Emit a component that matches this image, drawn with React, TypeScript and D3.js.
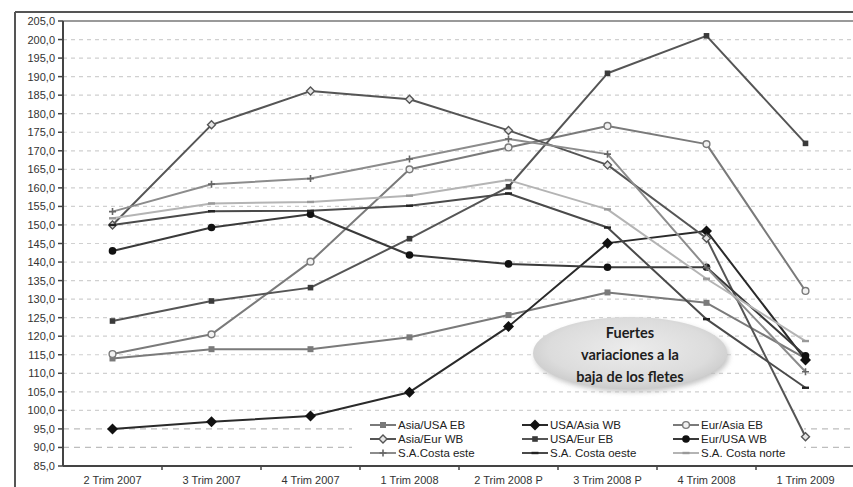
import React from "react";
import * as d3 from "d3";

const categories = ["2 Trim 2007", "3 Trim 2007", "4 Trim 2007", "1 Trim 2008", "2 Trim 2008 P", "3 Trim 2008 P", "4 Trim 2008", "1 Trim 2009"];
const yTicks = d3.range(85, 206, 5);

const asiaUsaEB = [114.0, 116.5, 116.5, 119.7, 125.7, 131.8, 129.0, 114.0];
const asiaEurWB = [150.0, 177.0, 186.1, 183.9, 175.5, 166.2, 146.4, 92.9];
const saCostaEste = [153.6, 161.0, 162.5, 167.8, 173.2, 169.1, 138.5, 110.4];
const usaAsiaWB = [95.0, 96.9, 98.5, 104.9, 122.6, 145.1, 148.4, 113.6];
const usaEurEB = [124.1, 129.5, 133.1, 146.3, 160.3, 190.9, 201.0, 172.0];
const eurUsaWB = [143.0, 149.3, 152.9, 141.9, 139.5, 138.6, 138.6, 114.7];
const eurAsiaEB = [115.2, 120.5, 140.1, 165.0, 170.9, 176.7, 171.8, 132.2];
const saCostaOeste = [150.0, 153.7, 153.8, 155.2, 158.5, 149.3, 124.6, 106.1];
const saCostaNorte = [151.8, 155.8, 156.2, 157.9, 162.1, 154.2, 135.5, 118.7];

type Marker = "square" | "diamondOpen" | "plus" | "diamondBig" | "squareSmall" | "circle" | "circleOpen" | "dash" | "dashLight";

const series: { name: string; values: number[]; color: string; width: number; marker: Marker }[] = [
  { name: "Asia/USA EB", values: asiaUsaEB, color: "#7a7a7a", width: 2, marker: "square" },
  { name: "USA/Asia WB", values: usaAsiaWB, color: "#2a2a2a", width: 2, marker: "diamondBig" },
  { name: "Eur/Asia EB", values: eurAsiaEB, color: "#7a7a7a", width: 2, marker: "circleOpen" },
  { name: "Asia/Eur WB", values: asiaEurWB, color: "#555555", width: 2, marker: "diamondOpen" },
  { name: "USA/Eur EB", values: usaEurEB, color: "#555555", width: 2, marker: "squareSmall" },
  { name: "Eur/USA WB", values: eurUsaWB, color: "#3a3a3a", width: 2, marker: "circle" },
  { name: "S.A.Costa este", values: saCostaEste, color: "#8c8c8c", width: 2, marker: "plus" },
  { name: "S.A. Costa oeste", values: saCostaOeste, color: "#4a4a4a", width: 2, marker: "dash" },
  { name: "S.A. Costa norte", values: saCostaNorte, color: "#b4b4b4", width: 2, marker: "dashLight" },
];

const W = 853;
const H = 487;
const plotLeft = 63;
const plotRight = 855;
const plotTop = 21;
const plotBottom = 466;

const x = d3.scalePoint<string>().domain(categories).range([plotLeft, plotRight]).padding(0.5);
const y = d3.scaleLinear().domain([85, 205]).range([plotBottom, plotTop]);
const step = x.step();

function MarkerShape({ type, cx, cy, color }: { type: Marker; cx: number; cy: number; color: string }) {
  switch (type) {
    case "square":
      return <rect x={cx - 3} y={cy - 3} width={6} height={6} fill={color} />;
    case "squareSmall":
      return <rect x={cx - 2.8} y={cy - 2.8} width={5.6} height={5.6} fill="#3a3a3a" />;
    case "diamondOpen":
      return <path d={`M${cx},${cy - 4}L${cx + 4},${cy}L${cx},${cy + 4}L${cx - 4},${cy}Z`} fill="#e6e6e6" stroke={color} strokeWidth={1.4} />;
    case "diamondBig":
      return <path d={`M${cx},${cy - 5.5}L${cx + 5.5},${cy}L${cx},${cy + 5.5}L${cx - 5.5},${cy}Z`} fill="#111" />;
    case "circle":
      return <circle cx={cx} cy={cy} r={3.8} fill="#111" />;
    case "circleOpen":
      return <circle cx={cx} cy={cy} r={3.4} fill="#f2f2f2" stroke={color} strokeWidth={1.4} />;
    case "plus":
      return <path d={`M${cx - 3.5},${cy}H${cx + 3.5}M${cx},${cy - 3.5}V${cy + 3.5}`} stroke="#666" strokeWidth={1.6} />;
    case "dash":
      return <path d={`M${cx - 3.5},${cy}H${cx + 3.5}`} stroke="#222" strokeWidth={2.4} />;
    case "dashLight":
      return <path d={`M${cx - 3.5},${cy}H${cx + 3.5}`} stroke="#999" strokeWidth={2.4} />;
  }
  return null;
}

export default function App() {
  const line = d3
    .line<number>()
    .x((_, i) => x(categories[i]) as number)
    .y((v) => y(v));

  const legendCols = [370, 522, 673];
  const legendRows = [425, 439, 453];

  return (
    <svg width={W} height={H} style={{ display: "block", position: "absolute", left: 0, top: 0, background: "#fff" }} fontFamily="'Liberation Sans', Arial, sans-serif">
      <defs>
        <radialGradient id="ellGrad" cx="50%" cy="45%" r="60%">
          <stop offset="0%" stopColor="#ececec" />
          <stop offset="70%" stopColor="#dcdcdc" />
          <stop offset="100%" stopColor="#c6c6c6" />
        </radialGradient>
        <filter id="soft" x="-20%" y="-30%" width="140%" height="160%">
          <feGaussianBlur stdDeviation="2.5" />
        </filter>
      </defs>
      <rect x={0} y={0} width={W} height={H} fill="#fff" />

      {/* grid lines */}
      {yTicks.slice(1, -1).map((t) => (
        <line key={t} x1={plotLeft} x2={W} y1={y(t)} y2={y(t)} stroke={t <= 95 ? "#bdbdbd" : "#d0d0d0"} strokeWidth={1.2} strokeDasharray={t <= 95 ? "6,5" : "4,4"} />
      ))}
      {/* top line at 205 */}
      <line x1={plotLeft} x2={W} y1={y(205)} y2={y(205)} stroke="#9a9a9a" strokeWidth={2} />

      {/* outer border */}
      <line x1={15} x2={W} y1={12} y2={12} stroke="#555" strokeWidth={2} />
      <line x1={15} x2={15} y1={12} y2={H} stroke="#555" strokeWidth={2} />

      {/* ellipse annotation */}
      <ellipse cx={632} cy={356} rx={97} ry={36} fill="#b8b8b8" filter="url(#soft)" opacity={0.8} />
      <ellipse cx={630} cy={353} rx={97} ry={36} fill="url(#ellGrad)" />
      <g fontFamily="Lato, 'Open Sans', sans-serif" fontWeight="bold" fontSize={14.5} fill="#1e1e1e" textAnchor="middle">
        <text x={630} y={338}>Fuertes</text>
        <text x={630} y={360}>variaciones a la</text>
        <text x={630} y={382}>baja de los fletes</text>
      </g>

      {/* legend background */}
      <rect x={352} y={414} width={452} height={48} fill="#fff" />

      {/* series */}
      {series.map((s) => (
        <g key={s.name}>
          <path d={line(s.values) ?? ""} fill="none" stroke={s.color} strokeWidth={s.width} strokeLinejoin="round" />
          {s.values.map((v, i) => (
            <MarkerShape key={i} type={s.marker} cx={x(categories[i]) as number} cy={y(v)} color={s.color} />
          ))}
        </g>
      ))}

      {/* legend */}
      {series.map((s, i) => {
        const lx = legendCols[i % 3];
        const ly = legendRows[Math.floor(i / 3)];
        return (
          <g key={s.name}>
            <line x1={lx} x2={lx + 26} y1={ly} y2={ly} stroke={s.color} strokeWidth={2} />
            <MarkerShape type={s.marker} cx={lx + 13} cy={ly} color={s.color} />
            <text x={lx + 28} y={ly + 4} fontSize={11.5} fill="#222">{s.name}</text>
          </g>
        );
      })}

      {/* y axis */}
      <line x1={plotLeft} x2={plotLeft} y1={plotTop} y2={plotBottom} stroke="#444" strokeWidth={2} />
      {yTicks.map((t) => (
        <g key={t}>
          <line x1={plotLeft - 5} x2={plotLeft} y1={y(t)} y2={y(t)} stroke="#444" strokeWidth={1.5} />
          <text x={55} y={y(t) + 4} fontSize={11} textAnchor="end" fill="#333">{d3.format(".1f")(t).replace(".", ",")}</text>
        </g>
      ))}

      {/* x axis */}
      <line x1={plotLeft} x2={W} y1={plotBottom} y2={plotBottom} stroke="#444" strokeWidth={2} />
      {categories.map((c, i) => (
        <g key={c}>
          {i > 0 && <line x1={plotLeft + step * i} x2={plotLeft + step * i} y1={plotBottom} y2={plotBottom + 4} stroke="#444" strokeWidth={1.5} />}
          <text x={x(c) as number} y={484} fontSize={11} textAnchor="middle" fill="#333">{c}</text>
        </g>
      ))}
    </svg>
  );
}
